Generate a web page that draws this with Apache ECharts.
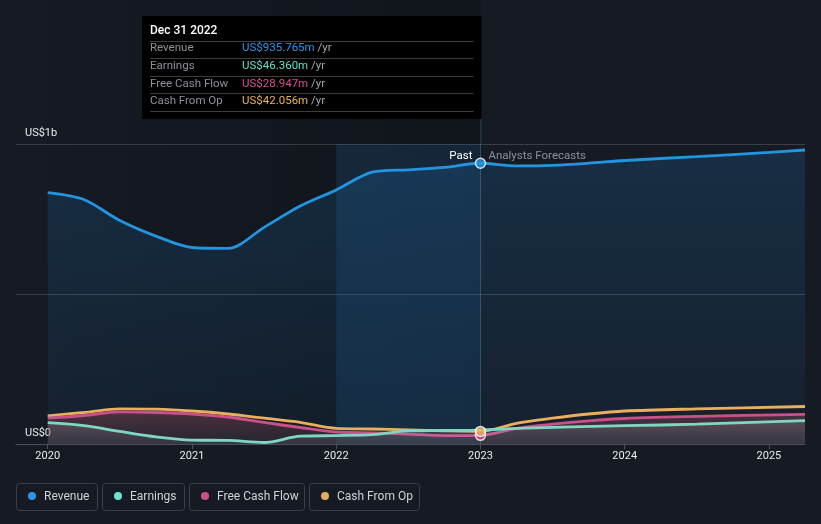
<!DOCTYPE html>
<html>
<head>
<meta charset="utf-8">
<script src="https://cdn.jsdelivr.net/npm/echarts@6/dist/echarts.min.js"></script>
<style>
html,body{margin:0;padding:0;background:#151a23;}
#c{width:821px;height:524px;}
</style>
</head>
<body>
<div id="c"></div>
<script>
// ---- data (values in US$ millions, x in decimal years) ----
const revenueX = [2020, 2020.25, 2020.5, 2020.75, 2021, 2021.25, 2021.5, 2021.75, 2022, 2022.25, 2022.5, 2022.75, 2023, 2023.25, 2023.5, 2023.75, 2024, 2024.5, 2025, 2025.25];
const revenueY = [838, 815, 745, 693, 655, 652, 722, 793, 847, 906, 914, 922, 935.765, 927, 929, 936, 945, 958, 972, 980];

const earningsX = [2020, 2020.25, 2020.5, 2020.75, 2021, 2021.25, 2021.5, 2021.75, 2022, 2022.25, 2022.5, 2022.75, 2023, 2023.25, 2024, 2024.5, 2025.25];
const earningsY = [71, 61, 42, 24, 13, 12, 5, 26, 28, 31, 44, 45, 46.36, 52, 61, 66, 78];

const fcfX = [2020, 2020.25, 2020.5, 2020.75, 2021, 2021.25, 2021.5, 2021.75, 2022, 2022.25, 2022.5, 2022.75, 2023, 2023.25, 2023.5, 2023.75, 2024, 2024.5, 2025.25];
const fcfY = [86, 95, 107, 105, 100, 90, 72, 55, 40, 37, 33, 28, 28.947, 52, 66, 77, 85, 92, 99];

const cfoX = [2020, 2020.25, 2020.5, 2020.75, 2021, 2021.25, 2021.5, 2021.75, 2022, 2022.25, 2022.5, 2022.75, 2023, 2023.25, 2023.5, 2023.75, 2024, 2024.5, 2025.25];
const cfoY = [94, 105, 117, 116, 110, 100, 86, 72, 52, 50, 47, 44, 42.056, 69, 86, 100, 110, 117, 125];

const yearTicks = [2020, 2021, 2022, 2023, 2024, 2025];
const yLabels = {0: 'US$0', 1000: 'US$1b'};
const tooltipDate = 'Dec 31 2022';
const tooltipRows = [
  ['Revenue', 'US$935.765m', '#2b96e6'],
  ['Earnings', 'US$46.360m', '#5fe0c7'],
  ['Free Cash Flow', 'US$28.947m', '#d9508f'],
  ['Cash From Op', 'US$42.056m', '#eeb158']
];
const legendItems = [
  ['Revenue', '#2b96e6'],
  ['Earnings', '#6fe3d2'],
  ['Free Cash Flow', '#c9508a'],
  ['Cash From Op', '#e6ad62']
];
const nowYear = 2023;
const pastBandStart = 2022;

const COL = {rev: '#2394e0', earn: '#7fd6c2', fcf: '#c9508a', cfo: '#e8b05e'};
const FONT = 'Roboto, "Noto Sans", sans-serif';

function pairs(xs, ys) { return xs.map((x, i) => [x, ys[i]]); }
function valAt(xs, ys, x) { return ys[xs.indexOf(x)]; }
function vgrad(c1, c2) {
  return new echarts.graphic.LinearGradient(0, 0, 0, 1, [{offset: 0, color: c1}, {offset: 1, color: c2}]);
}

const chart = echarts.init(document.getElementById('c'), null, {renderer: 'canvas'});

const baseLine = (name, xs, ys, color, area, z) => ({
  name: name, type: 'line', data: pairs(xs, ys),
  smooth: 0.3, showSymbol: false, symbol: 'none',
  lineStyle: {color: color, width: 2.8}, itemStyle: {color: color},
  areaStyle: area, z: z, silent: true, animation: false
});

const markerStyle = c => ({color: c, borderColor: '#ffffff', borderWidth: 1.5});

const option = {
  backgroundColor: '#151a23',
  animation: false,
  grid: {left: 16, right: 16, top: 144, bottom: 80, containLabel: false},
  xAxis: {
    type: 'value', min: 2019.78, max: 2025.25,
    axisLine: {show: true, lineStyle: {color: '#4a505a', width: 1}},
    axisTick: {show: true, customValues: yearTicks, length: 5, lineStyle: {color: '#4a505a'}},
    axisLabel: {customValues: yearTicks, color: '#e8eaed', fontSize: 11, fontFamily: FONT, margin: 7,
      formatter: v => String(Math.round(v))},
    splitLine: {show: false}
  },
  yAxis: {
    type: 'value', min: 0, max: 1000, interval: 500,
    axisLine: {show: false}, axisTick: {show: false},
    splitLine: {show: true, lineStyle: {color: 'rgba(255,255,255,0.16)', width: 1}},
    axisLabel: {inside: true, margin: 9, color: '#e8eaed', fontSize: 11, fontFamily: FONT,
      verticalAlign: 'bottom', padding: [0, 0, 5, 0],
      formatter: v => yLabels[v] || ''}
  },
  series: [
    Object.assign(baseLine('Revenue', revenueX, revenueY, COL.rev,
      {color: vgrad('rgba(33,140,225,0.25)', 'rgba(33,140,225,0.08)')}, 3), {
      markArea: {silent: true, itemStyle: {color: 'rgba(40,125,195,0.17)'},
        data: [[{xAxis: pastBandStart}, {xAxis: nowYear}]]},
      markLine: {silent: true, symbol: 'none', label: {show: false},
        lineStyle: {color: 'rgba(90,130,165,0.45)', type: 'solid', width: 1},
        data: [{xAxis: nowYear}]}
    }),
    baseLine('Cash From Op', cfoX, cfoY, COL.cfo,
      {color: vgrad('rgba(35,25,25,0.45)', 'rgba(35,25,25,0.2)')}, 4),
    baseLine('Free Cash Flow', fcfX, fcfY, COL.fcf,
      {color: vgrad('rgba(200,90,115,0.42)', 'rgba(160,100,115,0.16)')}, 5),
    baseLine('Earnings', earningsX, earningsY, COL.earn,
      {color: vgrad('rgba(170,172,180,0.32)', 'rgba(170,172,180,0.16)')}, 6),
    {
      name: 'markers', type: 'scatter', z: 10, silent: true, symbolSize: 10, animation: false,
      data: [
        {value: [nowYear, valAt(revenueX, revenueY, nowYear)], itemStyle: markerStyle(COL.rev)},
        {value: [nowYear, valAt(fcfX, fcfY, nowYear)], itemStyle: markerStyle(COL.fcf)},
        {value: [nowYear, valAt(cfoX, cfoY, nowYear)], itemStyle: markerStyle(COL.cfo)}
      ]
    }
  ]
};
chart.setOption(option);

// decorations positioned via the chart's own scales
const pNow = chart.convertToPixel({gridIndex: 0}, [nowYear, 1000]);
const pZero = chart.convertToPixel({gridIndex: 0}, [2019.78, 0]);
const xNow = pNow[0];
const yTop = pNow[1];
const gLeft = pZero[0];

const g = [];
g.push({type: 'rect', z: -1, silent: true,
  shape: {x: gLeft, y: 0, width: xNow - gLeft, height: pZero[1]},
  style: {fill: new echarts.graphic.LinearGradient(0, 0, 1, 0, [
    {offset: 0, color: 'rgba(0,0,0,0)'}, {offset: 1, color: 'rgba(0,0,0,0.22)'}])}});
g.push({type: 'line', z: 1, silent: true,
  shape: {x1: xNow + 0.5, y1: 119, x2: xNow + 0.5, y2: yTop},
  style: {stroke: 'rgba(90,130,165,0.45)', lineWidth: 1}});
g.push({type: 'text', z: 10, silent: true, x: xNow - 8, y: yTop + 12,
  style: {text: 'Past', fill: '#ffffff', font: '11.5px ' + FONT, align: 'right', verticalAlign: 'middle'}});
g.push({type: 'text', z: 10, silent: true, x: xNow + 8, y: yTop + 12,
  style: {text: 'Analysts Forecasts', fill: '#8b9098', font: '11.5px ' + FONT, align: 'left', verticalAlign: 'middle'}});

// tooltip box
const tipL = 142, tipT = 16, tipW = xNow + 1 - 142, tipH = 103;
g.push({type: 'rect', z: 20, silent: true, shape: {x: tipL, y: tipT, width: tipW, height: tipH}, style: {fill: '#000000'}});
g.push({type: 'text', z: 21, silent: true, x: 150, y: 31,
  style: {text: tooltipDate, fill: '#ffffff', font: '500 12px ' + FONT, verticalAlign: 'middle'}});
const rowY = [48.5, 66, 84, 101];
const sepY = [41, 58, 76, 93, 111];
sepY.forEach(y => g.push({type: 'line', z: 21, silent: true,
  shape: {x1: 150, y1: y + 0.5, x2: xNow - 7, y2: y + 0.5}, style: {stroke: '#3d3d3d', lineWidth: 1}}));
tooltipRows.forEach((r, i) => {
  g.push({type: 'text', z: 21, silent: true, x: 150, y: rowY[i],
    style: {text: r[0], fill: '#8e9298', font: '11.5px ' + FONT, verticalAlign: 'middle'}});
  g.push({type: 'text', z: 21, silent: true, x: 242, y: rowY[i],
    style: {text: '{v|' + r[1] + '} {u|/yr}', verticalAlign: 'middle', font: '11.5px ' + FONT,
      rich: {v: {fill: r[2], font: '11.5px ' + FONT}, u: {fill: '#a3a7ad', font: '11.5px ' + FONT}}}});
});

// legend
const legX = [16, 102, 189, 309];
const legW = [81, 82, 115, 110];
legendItems.forEach((it, i) => {
  g.push({type: 'rect', z: 20, silent: true,
    shape: {x: legX[i] + 0.5, y: 483.5, width: legW[i], height: 27, r: 3},
    style: {fill: 'transparent', stroke: '#3a3f49', lineWidth: 1}});
  g.push({type: 'circle', z: 21, silent: true, shape: {cx: legX[i] + 16, cy: 496, r: 4}, style: {fill: it[1]}});
  g.push({type: 'text', z: 21, silent: true, x: legX[i] + 28, y: 496.5,
    style: {text: it[0], fill: '#cfd2d7', font: '12px ' + FONT, verticalAlign: 'middle'}});
});

chart.setOption({graphic: g});
</script>
</body>
</html>
